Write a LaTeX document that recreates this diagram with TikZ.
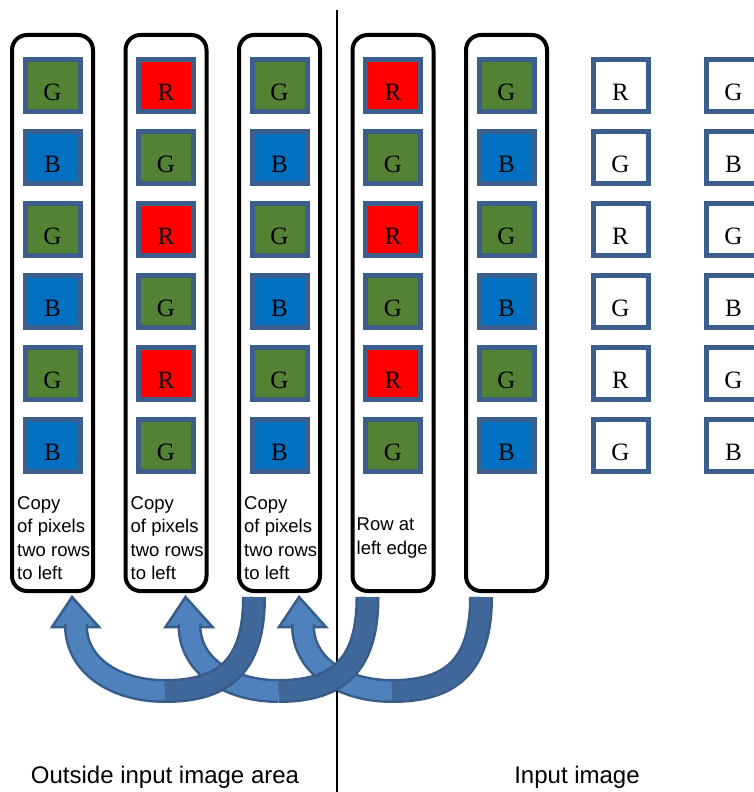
\documentclass[tikz,border=0pt]{standalone}
\usepackage{fontspec}
\setmainfont{Liberation Serif}
\setsansfont{Liberation Sans}
\usetikzlibrary{positioning,calc}
\definecolor{PixGreen}{HTML}{548235}
\definecolor{PixBlue}{HTML}{0070C0}
\definecolor{PixRed}{HTML}{FF0000}
\definecolor{PixEdge}{HTML}{3B5E8C}
\definecolor{ArrowLight}{HTML}{4F81BD}
\definecolor{ArrowDark}{HTML}{41689B}
\definecolor{ArrowEdge}{HTML}{385D8A}

\begin{document}
\begin{tikzpicture}[x=1pt,y=-1pt,node distance=15pt,
  strip/.style={draw,line width=4pt,rounded corners=15pt,minimum width=81pt,minimum height=556pt,inner sep=0pt},
  pix/.style={draw=PixEdge,line width=5pt,minimum width=55pt,minimum height=52pt,inner sep=0pt,font=\fontsize{25}{30}\selectfont,text height=29pt,text depth=0pt},
  pixG/.style={pix,fill=PixGreen},
  pixB/.style={pix,fill=PixBlue},
  pixR/.style={pix,fill=PixRed},
  pixW/.style={pix,fill=white},
  note/.style={font=\sffamily\fontsize{18.5}{23.3}\selectfont,align=left,inner sep=0pt,anchor=west},
  caption/.style={font=\sffamily\fontsize{24}{28}\selectfont,inner sep=0pt},
  shaftlight/.style={draw=ArrowEdge,line width=2.5pt,double=ArrowLight,double distance=19pt},
  shaftdark/.style={draw=ArrowEdge,line width=2.5pt,double=ArrowDark,double distance=19pt},
  head/.style={draw=ArrowEdge,line width=2.5pt,fill=ArrowLight,line join=miter}]
\useasboundingbox (0,0) rectangle (753,792);

% columns
\node[strip] (c1) at (52.5,313) {};
\node[strip,right=28.5pt of c1] (c2) {};
\node[strip,right=28.5pt of c2] (c3) {};
\node[strip,right=28.5pt of c3] (c4) {};
\node[strip,right=28.5pt of c4] (c5) {};

% pixels, copied columns
\node[pixG,below=24pt of c1.north] (p11) {G};
\node[pixB,below=of p11] (p12) {B};
\node[pixG,below=of p12] (p13) {G};
\node[pixB,below=of p13] (p14) {B};
\node[pixG,below=of p14] (p15) {G};
\node[pixB,below=of p15] (p16) {B};
\node[pixR,below=24pt of c2.north] (p21) {R};
\node[pixG,below=of p21] (p22) {G};
\node[pixR,below=of p22] (p23) {R};
\node[pixG,below=of p23] (p24) {G};
\node[pixR,below=of p24] (p25) {R};
\node[pixG,below=of p25] (p26) {G};
\node[pixG,below=24pt of c3.north] (p31) {G};
\node[pixB,below=of p31] (p32) {B};
\node[pixG,below=of p32] (p33) {G};
\node[pixB,below=of p33] (p34) {B};
\node[pixG,below=of p34] (p35) {G};
\node[pixB,below=of p35] (p36) {B};

% pixels, input image
\node[pixR,below=24pt of c4.north] (p41) {R};
\node[pixG,below=of p41] (p42) {G};
\node[pixR,below=of p42] (p43) {R};
\node[pixG,below=of p43] (p44) {G};
\node[pixR,below=of p44] (p45) {R};
\node[pixG,below=of p45] (p46) {G};
\node[pixG,below=24pt of c5.north] (p51) {G};
\node[pixB,below=of p51] (p52) {B};
\node[pixG,below=of p52] (p53) {G};
\node[pixB,below=of p53] (p54) {B};
\node[pixG,below=of p54] (p55) {G};
\node[pixB,below=of p55] (p56) {B};
\node[pixW,right=54pt of p51] (p61) {R};
\node[pixW,below=of p61] (p62) {G};
\node[pixW,below=of p62] (p63) {R};
\node[pixW,below=of p63] (p64) {G};
\node[pixW,below=of p64] (p65) {R};
\node[pixW,below=of p65] (p66) {G};
\node[pixW,right=53pt of p61] (p71) {G};
\node[pixW,below=of p71] (p72) {B};
\node[pixW,below=of p72] (p73) {G};
\node[pixW,below=of p73] (p74) {B};
\node[pixW,below=of p74] (p75) {G};
\node[pixW,below=of p75] (p76) {B};

% column notes
\node[note] (n1) at ($(c1.south west)+(7,-55)$) {Copy\\of pixels\\two rows\\to left};
\node[note] (n2) at ($(c2.south west)+(7,-55)$) {Copy\\of pixels\\two rows\\to left};
\node[note] (n3) at ($(c3.south west)+(7,-55)$) {Copy\\of pixels\\two rows\\to left};
\node[note] (n4) at ($(c4.south west)+(6,-55)$) {Row at\\left edge};

% captions
\node[caption] (outside) at (165,777) {Outside input image area};
\node[caption] (inside) at (577,777) {Input image};

% arrow points
\coordinate (a1tail) at ($(c3.south west)+(17,4)$);
\coordinate (a1end) at ($(c1.south west)+(66,34)$);
\coordinate (a1tip) at ($(c1.south west)+(62,4)$);
\coordinate (a1low) at ($(a1tail)!0.5!(a1end)+(0,79)$);
\coordinate (a2tail) at ($(c4.south west)+(17,4)$);
\coordinate (a2end) at ($(c2.south west)+(66,34)$);
\coordinate (a2tip) at ($(c2.south west)+(62,4)$);
\coordinate (a2low) at ($(a2tail)!0.5!(a2end)+(0,79)$);
\coordinate (a3tail) at ($(c5.south west)+(17,4)$);
\coordinate (a3end) at ($(c3.south west)+(66,34)$);
\coordinate (a3tip) at ($(c3.south west)+(62,4)$);
\coordinate (a3low) at ($(a3tail)!0.5!(a3end)+(0,79)$);

% arrow heads and front halves
\draw[head] (a1tip) -- ($(a1end)+(-24,0)$) -- ($(a1end)+(23,0)$) -- cycle;
\draw[head] (a2tip) -- ($(a2end)+(-24,0)$) -- ($(a2end)+(23,0)$) -- cycle;
\draw[head] (a3tip) -- ($(a3end)+(-24,0)$) -- ($(a3end)+(23,0)$) -- cycle;
\draw[shaftlight] (a1low) .. controls +(-50,0) and +(-1,41) .. ($(a1end)+(0,-3)$);
\draw[shaftlight] (a2low) .. controls +(-50,0) and +(-1,41) .. ($(a2end)+(0,-3)$);
\draw[shaftlight] (a3low) .. controls +(-50,0) and +(-1,41) .. ($(a3end)+(0,-3)$);

% border of the input image
\coordinate (edgetop) at (337,10);
\coordinate (edgebot) at (337,792);
\draw[line width=2.8pt] (edgetop) -- (edgebot);

% back halves
\draw[shaftdark] (a1tail) .. controls +(0,68) and +(60,0) .. (a1low);
\draw[shaftdark] (a2tail) .. controls +(0,68) and +(60,0) .. (a2low);
\draw[shaftdark] (a3tail) .. controls +(0,68) and +(60,0) .. (a3low);
\end{tikzpicture}
\end{document}
